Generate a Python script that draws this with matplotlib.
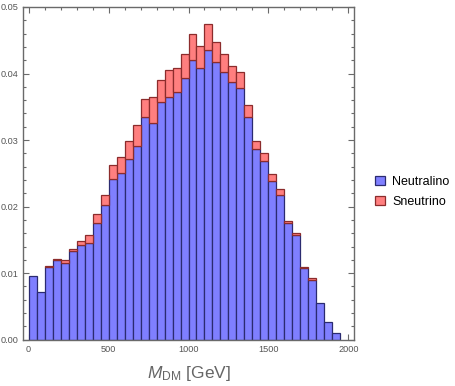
import numpy as np
import matplotlib
matplotlib.use("Agg")
import matplotlib.pyplot as plt
from matplotlib.patches import Patch
from matplotlib.ticker import MultipleLocator, FuncFormatter

plt.rcParams["font.family"] = ["Liberation Sans", "DejaVu Sans"]
plt.rcParams["mathtext.fontset"] = "custom"
plt.rcParams["mathtext.rm"] = "Liberation Sans"
plt.rcParams["mathtext.it"] = "Liberation Sans:italic"

bin_start = 0
bin_width = 50
neutralino = [0.0095, 0.0071, 0.0109, 0.0120, 0.0116, 0.0134, 0.0143, 0.0146, 0.0175, 0.0202,
              0.0241, 0.0251, 0.0271, 0.0291, 0.0335, 0.0326, 0.0357, 0.0364, 0.0373, 0.0393,
              0.0421, 0.0408, 0.0436, 0.0418, 0.0402, 0.0387, 0.0378, 0.0335, 0.0287, 0.0268,
              0.0239, 0.0218, 0.0176, 0.0157, 0.0108, 0.0090, 0.0055, 0.0026, 0.0010]
sneutrino = [0.0, 0.0, 0.0002, 0.0001, 0.0004, 0.0002, 0.0005, 0.0011, 0.0014, 0.0016,
             0.0021, 0.0023, 0.0028, 0.0032, 0.0026, 0.0038, 0.0033, 0.0041, 0.0035, 0.0036,
             0.0038, 0.0033, 0.0039, 0.0030, 0.0027, 0.0025, 0.0024, 0.0017, 0.0011, 0.0013,
             0.0010, 0.0009, 0.0003, 0.0004, 0.0002, 0.0002, 0.0, 0.0, 0.0]
series_labels = ["Neutralino", "Sneutrino"]

neu = np.array(neutralino)
sne = np.array(sneutrino)
lefts = bin_start + bin_width * np.arange(len(neu))

blue_face = "#7f7fff"
blue_edge = "#2b2b70"
red_face = "#ff7f7f"
red_edge = "#8c2c2c"
frame_col = "#6a6a6a"
tick_col = "#555555"

fig = plt.figure(figsize=(4.55, 3.86), dpi=100)
ax = fig.add_axes([23/455, 1 - 339.7/386, (354-23)/455, (339.7-7)/386])

ax.bar(lefts, neu, width=bin_width, align="edge", color=blue_face,
       edgecolor=blue_edge, linewidth=0.9, zorder=2)
m = sne > 0
ax.bar(lefts[m], sne[m], width=bin_width, bottom=neu[m], align="edge", color=red_face,
       edgecolor=red_edge, linewidth=0.9, zorder=2)

ax.set_xlim(-35, 2035)
ax.set_ylim(0, 0.05)
ax.xaxis.set_major_locator(MultipleLocator(500))
ax.xaxis.set_minor_locator(MultipleLocator(100))
ax.yaxis.set_major_locator(MultipleLocator(0.01))
ax.yaxis.set_minor_locator(MultipleLocator(0.002))
ax.yaxis.set_major_formatter(FuncFormatter(lambda v, p: f"{v:.2f}"))

for s in ax.spines.values():
    s.set_color(frame_col)
    s.set_linewidth(1.0)
ax.tick_params(which="both", direction="in", top=True, right=True, color=frame_col,
               labelcolor=tick_col, labelsize=6.6, width=0.8)
ax.tick_params(which="major", length=4.5, pad=3.5)
ax.tick_params(which="minor", length=2.5)
ax.tick_params(axis="y", labelright=False, pad=3)

ax.set_xlabel(r"$M_{\mathrm{DM}}$ [GeV]", fontsize=12.5, color="#666666")
ax.xaxis.set_label_coords(0.5, -0.072)

handles = [Patch(facecolor=blue_face, edgecolor=blue_edge, linewidth=0.9),
           Patch(facecolor=red_face, edgecolor=red_edge, linewidth=0.9)]
fig.legend(handles, series_labels, loc="center left", bbox_to_anchor=(364/455, 1 - 192/386),
           frameon=False, fontsize=9, handlelength=0.75, handleheight=0.75,
           handletextpad=0.6, labelspacing=0.6)

fig.savefig("out.png", dpi=100)
